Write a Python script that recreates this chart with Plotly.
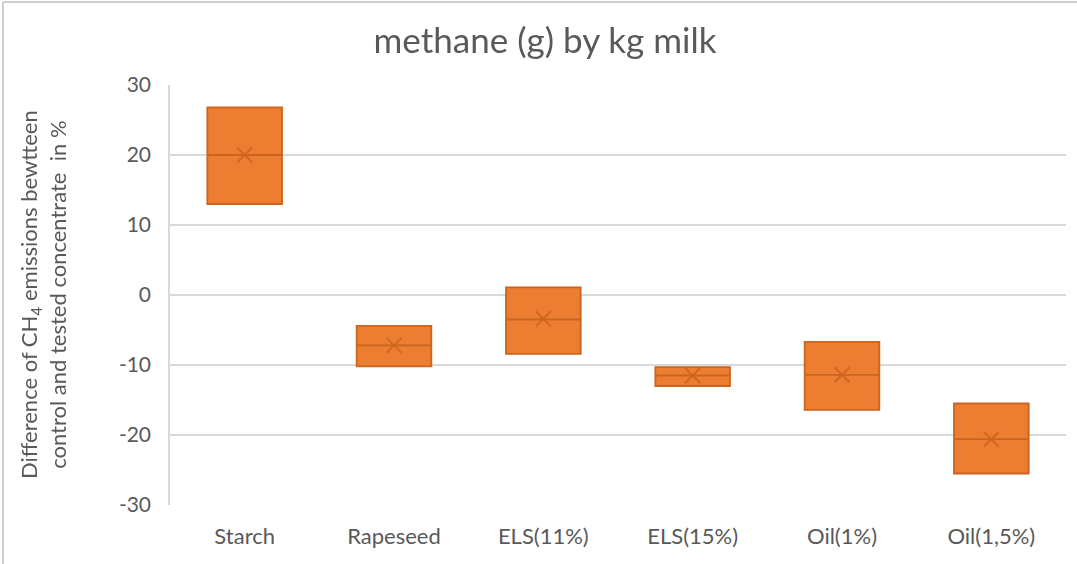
import plotly.graph_objects as go

# Diet treatments and the spread of CH4 difference (% vs control)
categories = ["Starch", "Rapeseed", "ELS(11%)", "ELS(15%)", "Oil(1%)", "Oil(1,5%)"]
q_low = [13.0, -10.2, -8.4, -13.0, -16.4, -25.5]
q_high = [26.8, -4.4, 1.1, -10.3, -6.7, -15.5]
medians = [20.0, -7.2, -3.5, -11.5, -11.4, -20.6]
means = [20.0, -7.2, -3.4, -11.5, -11.4, -20.6]

y_ticks = [-30, -20, -10, 0, 10, 20, 30]
y_tick_labels = ["-30", "-20", "-10", "0", "10", "20", "30"]

FILL = "#ED7D31"
EDGE = "#C9651F"
TEXT = "#595959"
GRID = "#D9D9D9"
FONT = "Lato, 'Open Sans', sans-serif"

fig = go.Figure()

fig.add_trace(go.Box(
    x=categories,
    q1=q_low,
    median=medians,
    q3=q_high,
    lowerfence=q_low,
    upperfence=q_high,
    width=0.5,
    fillcolor=FILL,
    line=dict(color=EDGE, width=1.8),
    whiskerwidth=0,
    boxpoints=False,
    showlegend=False,
    hoverinfo="skip",
))

fig.add_trace(go.Scatter(
    x=categories,
    y=means,
    mode="markers",
    marker=dict(symbol="x-thin", size=15, line=dict(color=EDGE, width=2)),
    opacity=0.85,
    showlegend=False,
    hoverinfo="skip",
))

# Outer chart frame (top and left edges visible)
L, R, T, B = 170, 11, 85, 59
W, H = 1077, 564
pw, ph = W - L - R, H - T - B
fx = (3 - L) / pw
fy = 1 + (T - 2) / ph
fig.add_shape(type="line", xref="paper", yref="paper", x0=fx, x1=1 + R / pw,
              y0=fy, y1=fy, line=dict(color="#CFCFCF", width=2))
fig.add_shape(type="line", xref="paper", yref="paper", x0=fx, x1=fx,
              y0=fy, y1=-B / ph, line=dict(color="#CFCFCF", width=2))

fig.add_annotation(
    xref="paper", yref="paper", x=(43 - L) / pw, y=0.5,
    text="Difference of CH<sub>4</sub> emissions bewtteen<br>control and tested concentrate  in %",
    textangle=-90, showarrow=False, xanchor="center", yanchor="middle",
    font=dict(family=FONT, size=22, color=TEXT),
)

fig.update_layout(
    width=W, height=H,
    margin=dict(l=L, r=R, t=T, b=B),
    paper_bgcolor="white",
    plot_bgcolor="white",
    title=dict(text="methane (g) by kg milk", x=545 / W,
               xanchor="center", y=1 - 41 / H, yanchor="middle",
               font=dict(family=FONT, size=35, color=TEXT)),
    font=dict(family=FONT, color=TEXT),
)

fig.update_xaxes(
    type="category",
    range=[-0.5, len(categories) - 0.5],
    showgrid=False,
    showline=False,
    ticks="",
    tickfont=dict(size=22, color=TEXT),
    ticklabelstandoff=16,
)
fig.update_yaxes(
    range=[-30, 30],
    tickvals=y_ticks,
    ticktext=y_tick_labels,
    showgrid=True, gridcolor=GRID, gridwidth=1.5,
    zeroline=False,
    showline=True, linecolor=GRID, linewidth=1.5,
    ticks="",
    tickfont=dict(size=21, color=TEXT),
    ticklabelstandoff=13,
)

fig.write_html("out.html")
